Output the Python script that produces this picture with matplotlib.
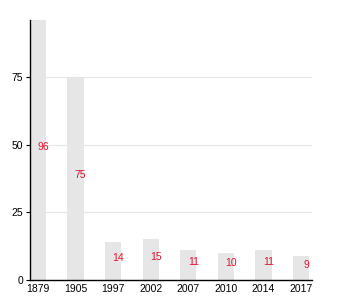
import matplotlib
matplotlib.use("Agg")
import matplotlib.pyplot as plt

# data
years = ["1879", "1905", "1997", "2002", "2007", "2010", "2014", "2017"]
values = [96, 75, 14, 15, 11, 10, 11, 9]
yticks = [0, 25, 50, 75]

plt.rcParams['font.family'] = ['Liberation Sans', 'DejaVu Sans']

fig = plt.figure(figsize=(3.5, 3), dpi=100)
ax = fig.add_axes([30 / 350, 20 / 300, 282 / 350, 260 / 300])

x = range(len(years))
ax.bar(x, values, width=0.43, color="#e6e6e6", zorder=2)
for i, v in enumerate(values):
    ax.annotate(str(v), xy=(i, v / 2), xytext=(3.6, 2.2), textcoords="offset points",
                ha="center", va="center", color="#e8102e", fontsize=7.5, zorder=3)

ax.set_xlim(-0.21, len(years) - 1 + 0.29)
ax.set_ylim(0, 96)
ax.set_yticks(yticks)
ax.set_xticks(list(x))
ax.set_xticklabels(years)
ax.yaxis.grid(True, color="#e6e6e6", linewidth=0.8, zorder=0)
ax.set_axisbelow(True)
for s in ["top", "right"]:
    ax.spines[s].set_visible(False)
ax.spines["left"].set_linewidth(1)
ax.spines["bottom"].set_linewidth(1)
ax.tick_params(axis="x", length=0, labelsize=7.5, pad=3)
ax.tick_params(axis="y", length=3, labelsize=7.5, pad=2)

fig.savefig("out.png", dpi=100)
